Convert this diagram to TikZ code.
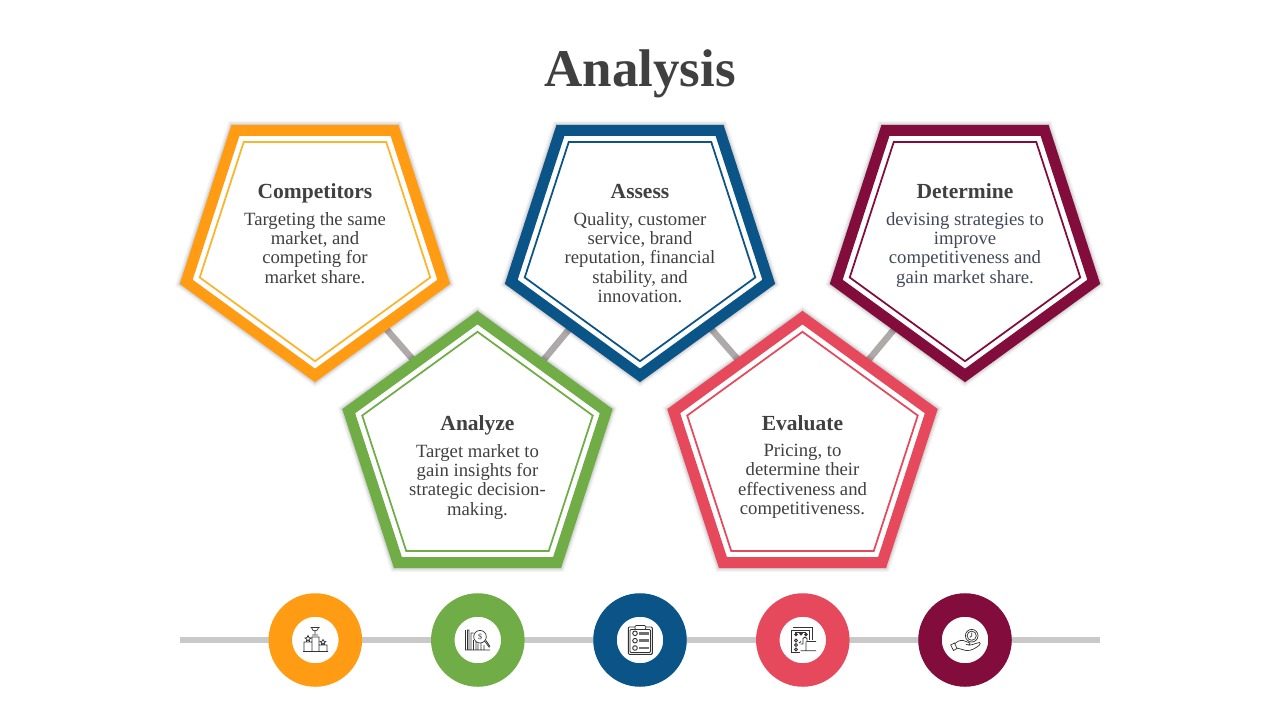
\documentclass[tikz,border=0pt]{standalone}
\usepackage{fontspec}
\setmainfont{Liberation Serif}
\usetikzlibrary{calc,shapes.geometric,backgrounds}
\definecolor{orangec}{HTML}{FF9C14}
\definecolor{orangel}{HTML}{FBB42C}
\definecolor{greenc}{HTML}{70AD47}
\definecolor{bluec}{HTML}{0B5487}
\definecolor{redc}{HTML}{E7495C}
\definecolor{wine}{HTML}{820D3C}
\definecolor{txtc}{HTML}{404040}
\definecolor{slatec}{HTML}{434859}
\definecolor{linkc}{HTML}{AEAAAA}
\definecolor{axisc}{HTML}{C9C9C9}
\definecolor{iconc}{HTML}{333333}
\tikzset{
  penta/.style={regular polygon,regular polygon sides=5,minimum size=270.8pt,inner sep=0pt,outer sep=0pt,
    draw=#1,line width=11pt,fill=white,
    preaction={draw=black,draw opacity=.04,line width=19pt},
    preaction={draw=black,draw opacity=.06,line width=16pt},
    preaction={draw=black,draw opacity=.08,line width=13.5pt}},
  pentain/.style={regular polygon,regular polygon sides=5,minimum size=242.4pt,inner sep=0pt,outer sep=0pt,
    draw=#1,line width=1.75pt},
  headtxt/.style={font=\fontsize{21.5}{24}\selectfont\bfseries,text=txtc,anchor=base},
  bodytxt/.style={font=\fontsize{18.7}{19.3}\selectfont,text=txtc,align=center,anchor=north,
    execute at begin node={\rule{0pt}{13pt}}},
  link/.style={draw=linkc,line width=6.5pt},
  ring/.style={circle,draw=#1,line width=23.5pt,fill=white,minimum size=70pt,inner sep=0pt,outer sep=0pt},
  icon/.style={draw=iconc,line width=.7pt},
  iconbar/.style={draw=iconc!70,line width=2pt}
}
\begin{document}
\begin{tikzpicture}[x=1pt,y=-1pt]
  \useasboundingbox (0,0) rectangle (1280,720);
  \node [font=\fontsize{53}{58}\selectfont\bfseries,text=txtc,anchor=base] (title) at (640,86) {Analysis};

  \node [penta=orangec,shape border rotate=180] (comp) at (315,240) {};
  \node [penta=bluec,shape border rotate=180] (assess) at (640,240) {};
  \node [penta=wine,shape border rotate=180] (deter) at (965,240) {};
  \node [penta=greenc] (analyze) at (477.5,453) {};
  \node [penta=redc] (eval) at (802.5,453) {};

  \node [pentain=orangel,shape border rotate=180] (compin) at (315,240) {};
  \node [pentain=bluec,shape border rotate=180] (assessin) at (640,240) {};
  \node [pentain=wine,shape border rotate=180] (deterin) at (965,240) {};
  \node [pentain=greenc] (analyzein) at (477.5,453) {};
  \node [pentain=redc] (evalin) at (802.5,453) {};

  \begin{scope}[on background layer]
    \draw [link] ($(comp.side 1)+(6.5,0)$) -- ($(analyze.side 1)+(4,0)$);
    \draw [link] ($(assess.side 5)+(-6,0)$) -- ($(analyze.side 5)+(-2,0)$);
    \draw [link] ($(assess.side 1)+(6.5,0)$) -- ($(eval.side 1)+(4,0)$);
    \draw [link] ($(deter.side 5)+(-6,0)$) -- ($(eval.side 5)+(-2,0)$);
  \end{scope}

  \node [headtxt] (comphead) at (315,198) {Competitors};
  \node [bodytxt] (compbody) at (315,208.7) {Targeting the same\\market, and\\competing for\\market share.};
  \node [headtxt] (assesshead) at (640,198) {Assess};
  \node [bodytxt] (assessbody) at (640,208.7) {Quality, customer\\service, brand\\reputation, financial\\stability, and\\innovation.};
  \node [headtxt] (deterhead) at (965,198) {Determine};
  \node [bodytxt,text=slatec] (deterbody) at (965,208.7) {devising strategies to\\improve\\competitiveness and\\gain market share.};
  \node [headtxt] (analyzehead) at (477.5,430) {Analyze};
  \node [bodytxt] (analyzebody) at (477.5,440.7) {Target market to\\gain insights for\\strategic decision-\\making.};
  \node [headtxt] (evalhead) at (802.5,430) {Evaluate};
  \node [bodytxt] (evalbody) at (802.5,440.7) {Pricing, to\\determine their\\effectiveness and\\competitiveness.};

  % timeline
  \coordinate (axisl) at (180,640);
  \coordinate (axisr) at (1100,640);
  \draw [draw=axisc,line width=6pt] (axisl) -- (axisr);
  \node [ring=orangec] (dotcomp) at (315.3,640) {};
  \node [ring=greenc] (dotanalyze) at (477.8,640) {};
  \node [ring=bluec] (dotassess) at (640,640) {};
  \node [ring=redc] (doteval) at (802.8,640) {};
  \node [ring=wine] (dotdeter) at (965,640) {};

  % podium
  \draw [icon]
    (303,651.5) -- (328,651.5)
    (304,651.5) |- (312,642) (312,651.5) |- (319,637) -- (319,651.5)
    (319,645) -| (327,651.5)
    (310.5,627.5) -- (319.5,627.5) (311.5,627.5) .. controls (312,632) and (318,632) .. (318.5,627.5)
    (315,631) -- (315,634) (312,635) -- (318,635)
    (308,635.5) -- (309,637.5) -- (311,638) -- (309.2,639.3) -- (309.5,641) -- (308,640) -- (306.5,641) -- (306.8,639.3) -- (305,638) -- (307,637.5) -- cycle
    (323,639.5) -- (323.9,641.2) -- (325.8,641.6) -- (324.3,642.8) -- (324.6,644.3) -- (323,643.5) -- (321.4,644.3) -- (321.7,642.8) -- (320.2,641.6) -- (322.1,641.2) -- cycle;
  % chart and lens
  \draw [icon]
    (465.5,630) -- (465.5,650) -- (490,650)
    (467.5,650) |- (469,630) -- (469,650)
    (471,650) |- (473.5,633) (473.5,640) -- (473.5,650)
    (476,650) -- (476,642) (478,650) -- (478,643.5) (481,650) -- (481,643.5) (484,650) -- (484,645)
    (480,636.7) circle (6.3)
    (484.6,641) -- (489.3,647.5) (486,640.5) -- (490,646.5);
  \node [font=\fontsize{8}{8}\selectfont,text=iconc,inner sep=0pt] (dollar) at (480,636.7) {\$};
  % clipboard
  \draw [icon,line width=.9pt,rounded corners=1pt] (628.3,627) rectangle (652.3,654.3) (630,629.5) rectangle (650.5,652.5);
  \draw [icon,fill=white,rounded corners=1pt] (635,625.5) rectangle (645.7,629.5);
  \draw [icon,line width=.9pt] (635,633.3) circle (2.3) (635,640.7) circle (2.3) (635,648) circle (2.3);
  \draw [iconbar,line width=2.5pt] (639,633.3) -- (649.3,633.3) (639,640.7) -- (649.3,640.7) (639,648) -- (649.3,648);
  % rating page
  \draw [icon,line width=.9pt] (793,627.7) -- (812,627.7) -- (812,640) (791,652.3) |- (809.5,630) -- (809.5,640) (791,652.3) -- (800,652.3);
  \draw [icon] (795,632.5) -- (806,632.5);
  \draw [icon,fill=iconc] (796,634.5) circle (1.4) (801,633.7) circle (1.4) (806,634.5) circle (1.4);
  \draw [icon,line width=.9pt] (796,640.5) circle (1.4) (796,645) circle (1.4) (796,649.5) circle (1.4) (799,643) -- (801,641.5);
  \draw [icon,line width=.9pt,fill=white] (800.5,644) -- (803,644) -- (803,638.5) -- (805,637) -- (807,638.5) -- (807,641.5) -- (816,641.5) (816,650.7) -- (800.5,650.7) -- cycle (806,641.5) -- (806,650.7);
  % hand and clock
  \draw [icon] (971.7,635.7) circle (6.3) (971.7,635.7) circle (4.6) (971.7,632.5) -- (971.7,636) -- (969.8,637.2);
  \draw [icon]
    (950.7,645) -- (954.5,643) -- (957,648.5) -- (953.5,650.5) -- cycle
    (955,643.5) .. controls (959,640) and (962,639.5) .. (966,641.5) -- (970,643)
    .. controls (971,644.5) and (969,645) .. (966,644.5) (968,645) .. controls (972,645.5) and (976,643) .. (979.5,642.5)
    .. controls (981,643) and (980,644.5) .. (979,645.5) .. controls (975,648.5) and (971,651) .. (966,650.5)
    .. controls (963,650) and (960,648.5) .. (957,648);
\end{tikzpicture}
\end{document}
